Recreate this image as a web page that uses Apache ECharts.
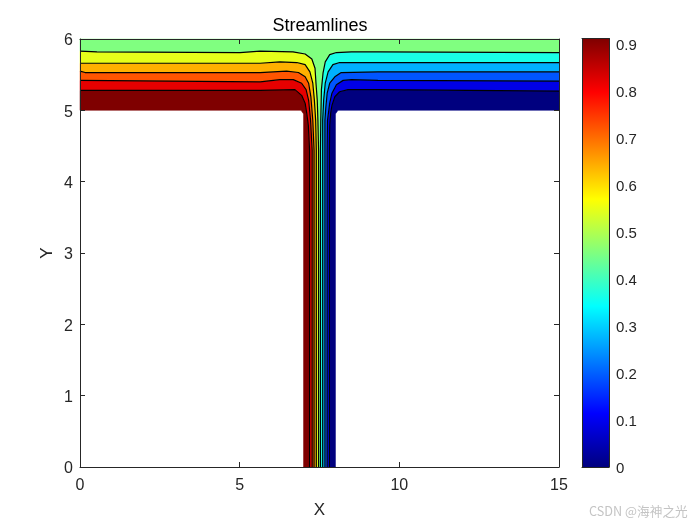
<!DOCTYPE html>
<html lang="en">

<head>
  <meta charset="UTF-8">
  <title>Streamlines</title>
  <script src="https://cdn.jsdelivr.net/npm/echarts@6/dist/echarts.min.js"></script>
  <style>
    html, body { margin: 0; padding: 0; background: #fff; }
    #chart { width: 700px; height: 525px; }
  </style>
</head>

<body>
  <div id="chart"></div>
  <script>
    // ticks
    const xTicks = [0, 5, 10, 15];
    const yTicks = [0, 1, 2, 3, 4, 5, 6];
    const barTicks = [0, 0.1, 0.2, 0.3, 0.4, 0.5, 0.6, 0.7, 0.8, 0.9];
    const barValue = [0.9117];

    // walls of the T shaped domain
    const wallLeft = [[0, 5], [6.92, 5], [7, 4.95], [7, 0]];
    const wallRight = [[15, 5], [8.08, 5], [8, 4.95], [8, 0]];
    const wallTop = [[0, 6], [15, 6]];

    // contour lines on the left branch, highest value first
    const left1 = [[0, 5.28], [5.64, 5.28], [6.73, 5.29], [6.94, 5.21], [7.05, 5.10], [7.10, 4.96], [7.15, 4.79], [7.19, 4.44], [7.19, 0]];
    const left2 = [[0, 5.42], [5.64, 5.40], [6.26, 5.43], [6.68, 5.43], [6.94, 5.38], [7.08, 5.29], [7.16, 5.14], [7.22, 4.86], [7.27, 4.44], [7.27, 0]];
    const left3 = [[0, 5.55], [0.16, 5.53], [5.64, 5.53], [6.47, 5.55], [6.84, 5.53], [7.05, 5.47], [7.16, 5.38], [7.23, 5.19], [7.29, 4.86], [7.33, 4.44], [7.33, 0]];
    const left4 = [[0, 5.66], [5.64, 5.66], [6.26, 5.68], [6.79, 5.67], [7.05, 5.64], [7.20, 5.54], [7.29, 5.38], [7.34, 5.14], [7.38, 4.86], [7.40, 4.44], [7.40, 0]];
    const left5 = [[0, 5.83], [0.53, 5.82], [5.01, 5.81], [5.64, 5.83], [6.67, 5.82], [7.05, 5.79], [7.26, 5.72], [7.36, 5.59], [7.39, 5.38], [7.43, 5.14], [7.45, 4.86], [7.47, 4.44], [7.47, 0]];

    // contour lines on the right branch, lowest value first
    const right1 = [[15, 5.27], [9.33, 5.29], [8.39, 5.29], [8.13, 5.26], [7.98, 5.19], [7.89, 5.07], [7.85, 4.96], [7.82, 4.79], [7.81, 4.44], [7.81, 0]];
    const right2 = [[15, 5.41], [9.33, 5.42], [8.50, 5.43], [8.24, 5.42], [8.03, 5.36], [7.89, 5.24], [7.82, 5.10], [7.75, 4.86], [7.74, 4.44], [7.74, 0]];
    const right3 = [[15, 5.54], [9.33, 5.54], [8.18, 5.53], [7.98, 5.47], [7.82, 5.38], [7.74, 5.24], [7.70, 5.05], [7.67, 4.86], [7.67, 4.44], [7.67, 0]];
    const right4 = [[15, 5.67], [9.33, 5.67], [8.13, 5.67], [7.92, 5.64], [7.77, 5.54], [7.68, 5.38], [7.63, 5.14], [7.60, 4.86], [7.60, 4.44], [7.60, 0]];
    const right5 = [[15, 5.81], [9.33, 5.82], [8.50, 5.82], [8.03, 5.81], [7.82, 5.78], [7.68, 5.68], [7.61, 5.52], [7.56, 5.29], [7.54, 4.86], [7.53, 4.44], [7.53, 0]];

    const leftLines = [left1, left2, left3, left4, left5];
    const rightLines = [right1, right2, right3, right4, right5];

    const leftColors = ['#7f0000', '#e60000', '#ff5500', '#ffb000', '#e6ff1a'];
    const rightColors = ['#00007f', '#0000e6', '#0055ff', '#00b0ff', '#19ffe6'];
    const middleColor = '#80ff80';
    const inkColor = '#262626';
    const fontName = '"Liberation Sans", Arial, sans-serif';

    // each band is the area between two neighbouring contour lines
    function between(a, b) {
      return a.concat(b.slice().reverse());
    }
    function bandSeries(points, color) {
      return {
        type: 'custom',
        xAxisIndex: 0,
        yAxisIndex: 0,
        data: points,
        silent: true,
        renderItem: function (params, api) {
          if (params.dataIndex !== 0) return;
          return {
            type: 'polygon',
            shape: { points: points.map(p => api.coord(p)) },
            style: { fill: color, stroke: color, lineWidth: 0.5 }
          };
        }
      };
    }
    function lineSeries(points) {
      return {
        type: 'line',
        xAxisIndex: 0,
        yAxisIndex: 0,
        data: points,
        showSymbol: false,
        silent: true,
        lineStyle: { color: '#000', width: 1.2 }
      };
    }

    const series = [];
    leftLines.forEach((line, i) => {
      series.push(bandSeries(between(i === 0 ? wallLeft : leftLines[i - 1], line), leftColors[i]));
    });
    rightLines.forEach((line, i) => {
      series.push(bandSeries(between(i === 0 ? wallRight : rightLines[i - 1], line), rightColors[i]));
    });
    series.push(bandSeries(wallTop.concat(right5, left5.slice().reverse()), middleColor));
    leftLines.concat(rightLines).forEach(line => series.push(lineSeries(line)));

    // colorbar
    series.push({
      type: 'bar',
      xAxisIndex: 2,
      yAxisIndex: 2,
      data: barValue,
      barWidth: '100%',
      silent: true,
      itemStyle: {
        color: new echarts.graphic.LinearGradient(0, 1, 0, 0, [
          { offset: 0, color: '#00007f' },
          { offset: 0.125, color: '#0000ff' },
          { offset: 0.375, color: '#00ffff' },
          { offset: 0.625, color: '#ffff00' },
          { offset: 0.875, color: '#ff0000' },
          { offset: 1, color: '#7f0000' }
        ])
      }
    });

    const line = { show: true, onZero: false, lineStyle: { color: inkColor, width: 1 } };
    const label = { color: inkColor, fontSize: 16, fontFamily: fontName };
    const nameStyle = { color: inkColor, fontSize: 17, fontFamily: fontName };

    const option = {
      animation: false,
      backgroundColor: '#fff',
      title: {
        text: 'Streamlines',
        left: 315,
        top: 12,
        textAlign: 'center',
        textStyle: { color: '#000', fontSize: 18, fontWeight: 'normal', fontFamily: fontName }
      },
      grid: [
        { left: 80, width: 479, top: 39, height: 428 },
        { left: 582, width: 27, top: 38.5, height: 428.5 }
      ],
      xAxis: [
        {
          type: 'value', gridIndex: 0, position: 'bottom', min: 0, max: 15, interval: 5, z: 10,
          name: 'X', nameLocation: 'middle', nameGap: 35, nameTextStyle: nameStyle,
          axisLine: line, splitLine: { show: false },
          axisTick: { inside: true, length: 5, lineStyle: { color: inkColor } },
          axisLabel: { ...label, margin: 11, customValues: xTicks }
        },
        {
          type: 'value', gridIndex: 0, position: 'top', min: 0, max: 15, interval: 5, z: 10,
          axisLine: line, splitLine: { show: false },
          axisTick: { inside: true, length: 5, lineStyle: { color: inkColor } },
          axisLabel: { show: false }
        },
        {
          type: 'category', gridIndex: 1, position: 'bottom', data: ['c'], z: 10,
          axisLine: line, axisTick: { show: false }, axisLabel: { show: false }
        },
        {
          type: 'category', gridIndex: 1, position: 'top', data: ['c'], z: 10,
          axisLine: line, axisTick: { show: false }, axisLabel: { show: false }
        }
      ],
      yAxis: [
        {
          type: 'value', gridIndex: 0, position: 'left', min: 0, max: 6, interval: 1, z: 10,
          name: 'Y', nameLocation: 'middle', nameGap: 24, nameMoveOverlap: false, nameTextStyle: nameStyle,
          axisLine: line, splitLine: { show: false },
          axisTick: { inside: true, length: 5, lineStyle: { color: inkColor } },
          axisLabel: { ...label, margin: 7, verticalAlign: 'bottom', lineHeight: 16, padding: [0, 0, -10, 0], customValues: yTicks }
        },
        {
          type: 'value', gridIndex: 0, position: 'right', min: 0, max: 6, interval: 1, z: 10,
          axisLine: line, splitLine: { show: false },
          axisTick: { inside: true, length: 5, lineStyle: { color: inkColor } },
          axisLabel: { show: false }
        },
        {
          type: 'value', gridIndex: 1, position: 'right', min: 0, max: barValue[0], z: 10,
          axisLine: line, splitLine: { show: false },
          axisTick: { inside: true, length: 4, customValues: barTicks, lineStyle: { color: inkColor } },
          axisLabel: { ...label, fontSize: 15, margin: 7, verticalAlign: 'bottom', lineHeight: 15, padding: [0, 0, -9.5, 0], customValues: barTicks }
        },
        {
          type: 'value', gridIndex: 1, position: 'left', min: 0, max: barValue[0], z: 10,
          axisLine: line, splitLine: { show: false },
          axisTick: { show: false }, axisLabel: { show: false }
        }
      ],
      graphic: [{
        type: 'text',
        left: 589,
        top: 505,
        silent: true,
        style: {
          text: 'CSDN @海神之光',
          fill: '#c4c4c4',
          font: '12.7px "Noto Sans CJK SC", sans-serif'
        }
      }],
      series: series
    };

    const chart = echarts.init(document.getElementById('chart'));
    chart.setOption(option);
  </script>
</body>

</html>
